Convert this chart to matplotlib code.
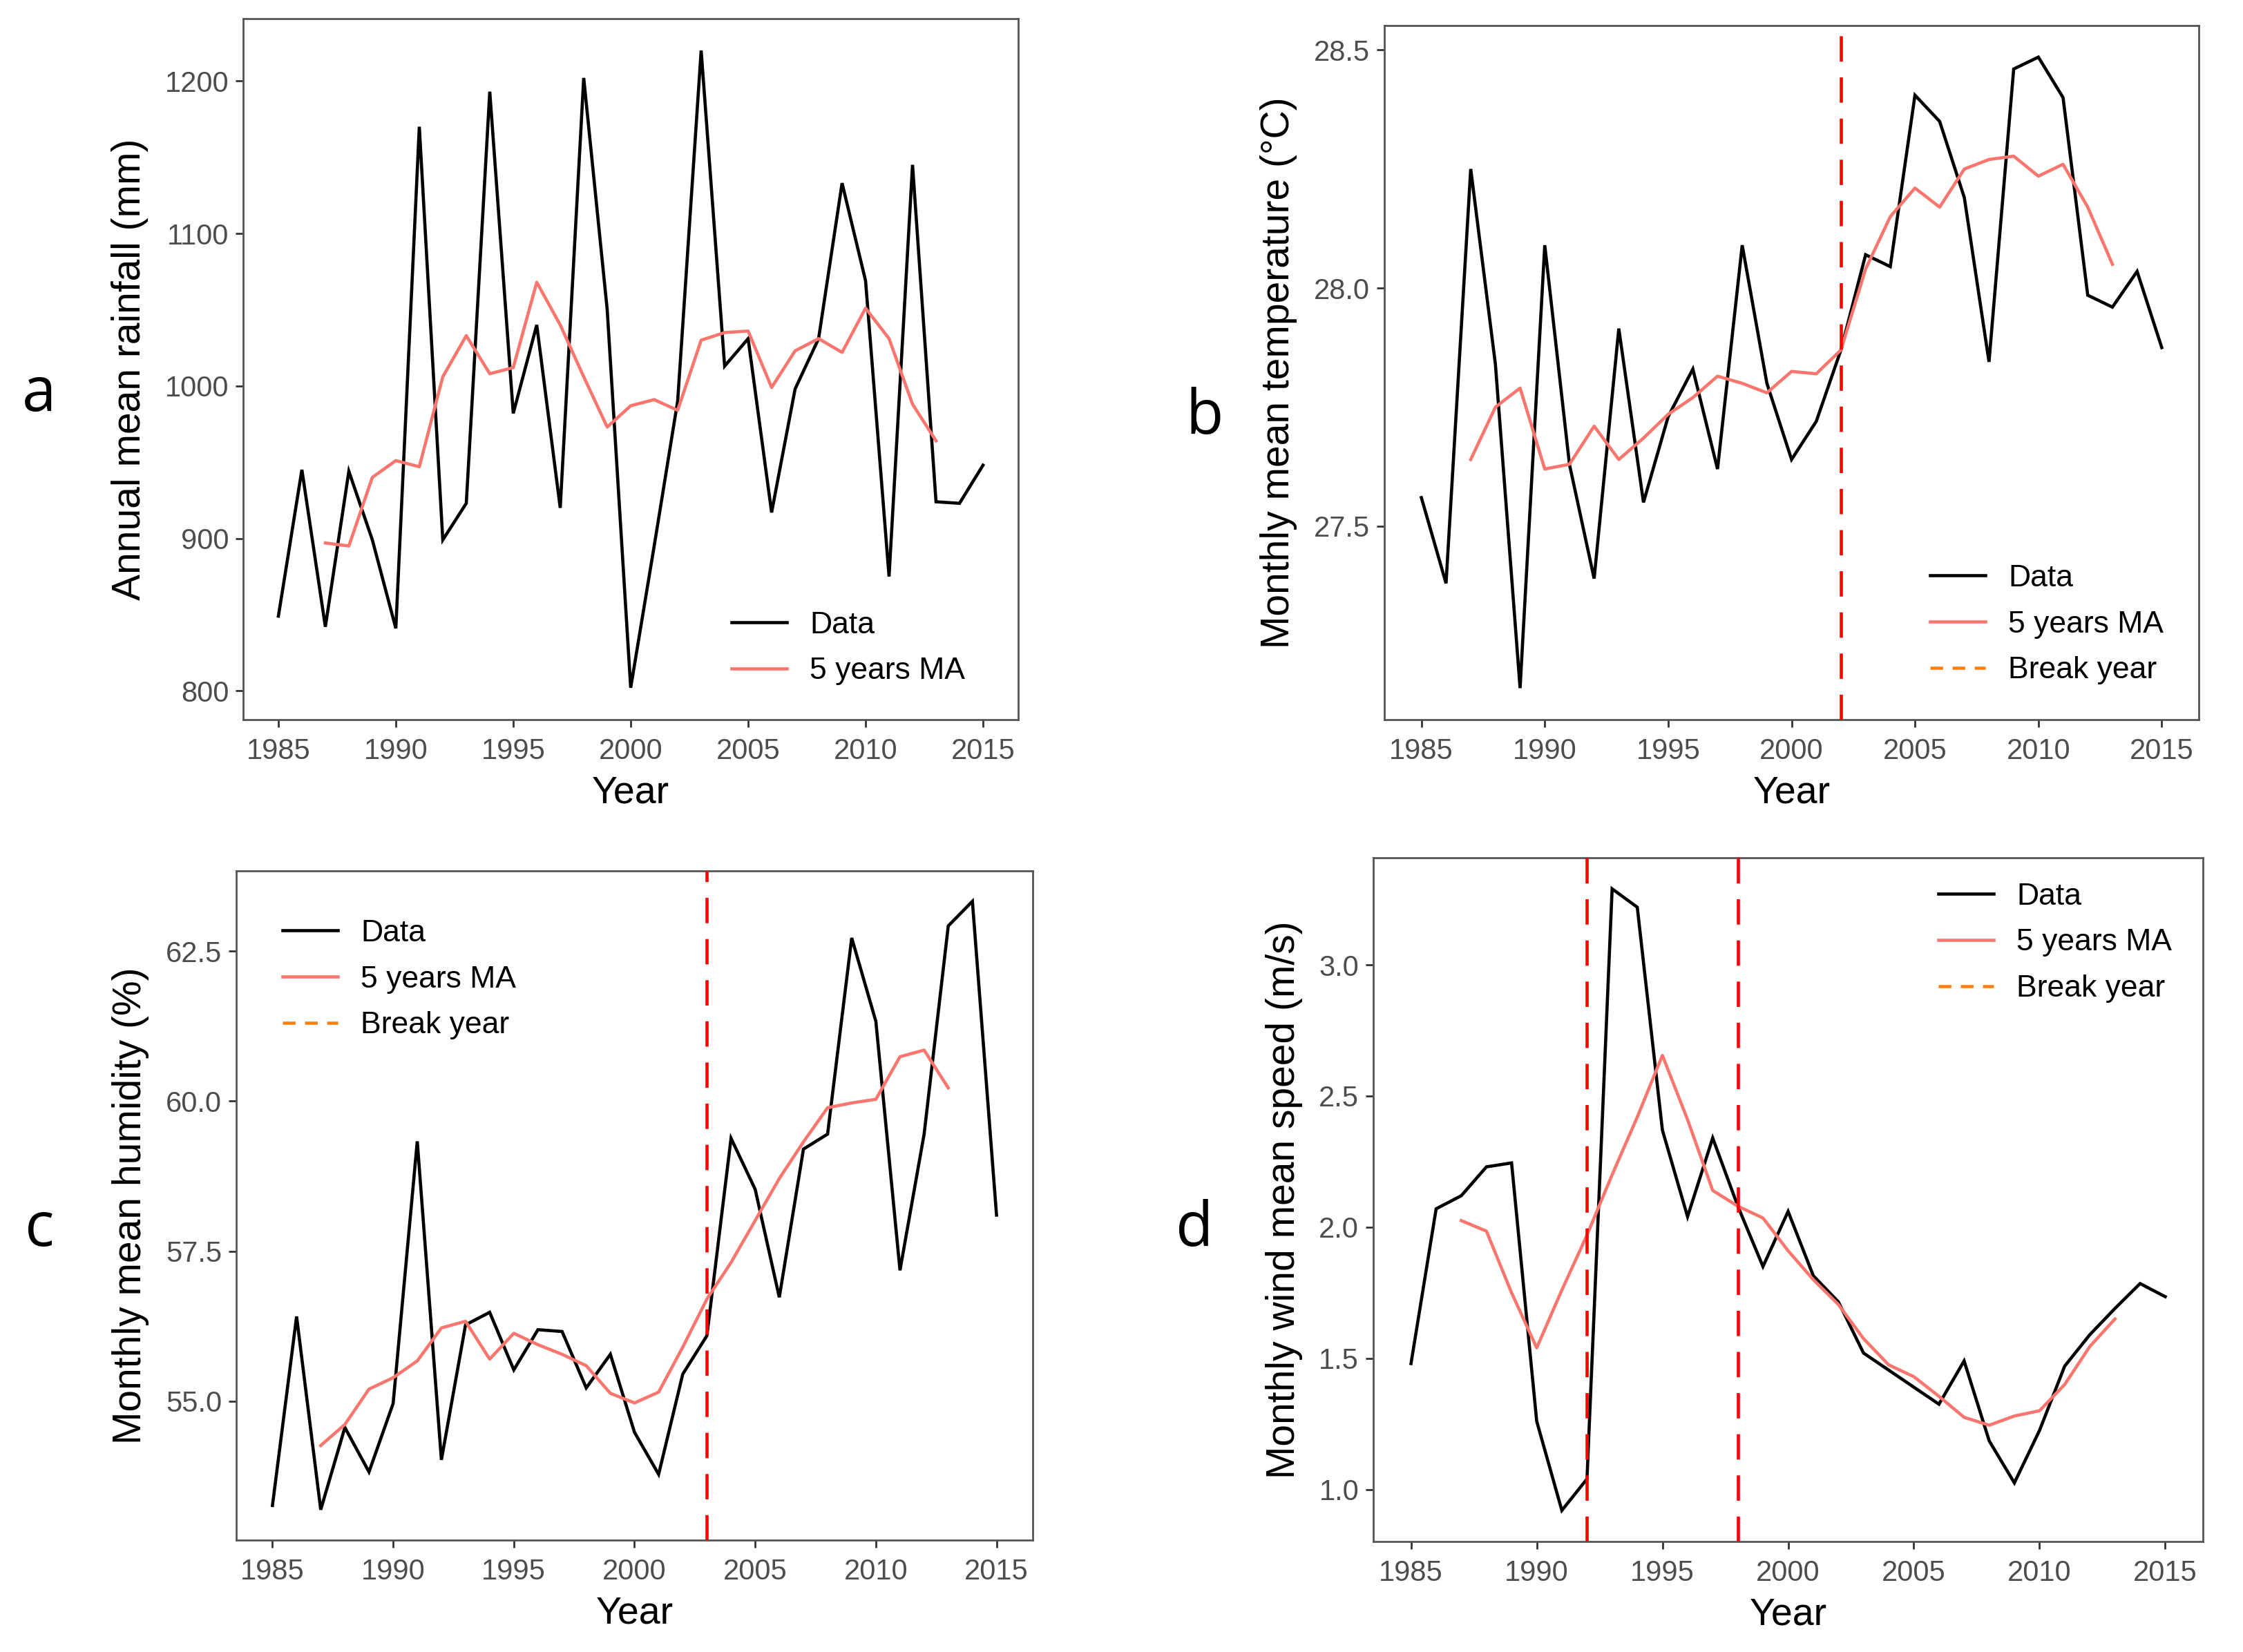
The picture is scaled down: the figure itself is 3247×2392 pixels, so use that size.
import matplotlib
matplotlib.use('Agg')
import matplotlib.pyplot as plt
from matplotlib.lines import Line2D

years = list(range(1985, 2016))
ma_years = list(range(1987, 2014))
x_ticks = [1985, 1990, 1995, 2000, 2005, 2010, 2015]

rain_data = [849, 945, 842, 944, 899, 841, 1170, 899, 923, 1193, 982, 1040, 920, 1202, 1050,
             802, 895, 990, 1220, 1013, 1031, 917, 998, 1031, 1133, 1069, 875, 1145, 924, 923, 948]
rain_ma = [897, 895, 940, 951, 947, 1006, 1033, 1008, 1012, 1068, 1040, 1006, 973, 987, 991,
           984, 1030, 1035, 1036, 999, 1023, 1031, 1022, 1051, 1031, 988, 964]

temp_data = [27.56, 27.38, 28.25, 27.84, 27.16, 28.09, 27.63, 27.39, 27.915, 27.55, 27.73, 27.83,
             27.62, 28.09, 27.80, 27.64, 27.72, 27.87, 28.07, 28.045, 28.405, 28.35, 28.19, 27.845,
             28.46, 28.485, 28.40, 27.985, 27.96, 28.035, 27.875]
temp_ma = [27.64, 27.75, 27.79, 27.62, 27.63, 27.71, 27.64, 27.685, 27.735, 27.77, 27.815, 27.80,
           27.78, 27.825, 27.82, 27.87, 28.04, 28.15, 28.21, 28.17, 28.25, 28.27, 28.277, 28.235,
           28.26, 28.17, 28.05]
temp_breaks = [2002]

hum_data = [53.26, 56.41, 53.19, 54.56, 53.82, 54.96, 59.33, 54.02, 56.27, 56.48, 55.52, 56.19,
            56.16, 55.22, 55.78, 54.48, 53.78, 55.45, 56.09, 59.38, 58.53, 56.73, 59.20, 59.45,
            62.72, 61.33, 57.18, 59.45, 62.92, 63.33, 58.10]
hum_ma = [54.26, 54.61, 55.20, 55.39, 55.67, 56.22, 56.33, 55.70, 56.13, 55.94, 55.78, 55.59,
          55.13, 54.97, 55.15, 55.90, 56.70, 57.31, 58.01, 58.71, 59.32, 59.89, 59.97, 60.03,
          60.74, 60.85, 60.22]
hum_breaks = [2003]

wind_data = [1.48, 2.07, 2.12, 2.23, 2.245, 1.26, 0.92, 1.04, 3.29, 3.22, 2.37, 2.04, 2.34, 2.08,
             1.85, 2.06, 1.815, 1.715, 1.52, 1.455, 1.39, 1.325, 1.49, 1.185, 1.025, 1.225, 1.47,
             1.59, 1.69, 1.785, 1.735]
wind_ma = [2.025, 1.985, 1.75, 1.54, 1.76, 1.97, 2.20, 2.42, 2.655, 2.41, 2.14, 2.08, 2.035, 1.91,
           1.80, 1.705, 1.575, 1.475, 1.43, 1.355, 1.275, 1.245, 1.28, 1.30, 1.40, 1.545, 1.65]
wind_breaks = [1992, 1998]

labels = ["Data", "5 years MA", "Break year"]

W, H = 3247, 2392
fig = plt.figure(figsize=(W / 100, H / 100), dpi=100)
fig.patch.set_facecolor('white')

BLACK = '#000000'
SALMON = '#F8766D'
BREAK_RED = '#FF0000'
LEG_ORANGE = '#FF7F0E'
TICK_C = '#4D4D4D'
FONT = 'Liberation Sans'


def px_rect(left, right, top, bottom):
    return [left / W, 1 - bottom / H, (right - left) / W, (bottom - top) / H]


panels = [
    dict(rect=px_rect(352, 1474, 27, 1042), data=rain_data, ma=rain_ma, breaks=[],
         yticks=[800, 900, 1000, 1100, 1200], fmt='{:.0f}',
         ylabel='Annual mean rainfall (mm)', letter='a', lxy=(57, 572),
         leg=(0.630, 0.155)),
    dict(rect=px_rect(2004, 3183, 37, 1042), data=temp_data, ma=temp_ma, breaks=temp_breaks,
         yticks=[27.5, 28.0, 28.5], fmt='{:.1f}',
         ylabel='Monthly mean temperature (°C)', letter='b', lxy=(1744, 605),
         leg=(0.670, 0.224)),
    dict(rect=px_rect(342, 1495, 1261, 2230), data=hum_data, ma=hum_ma, breaks=hum_breaks,
         yticks=[55.0, 57.5, 60.0, 62.5], fmt='{:.1f}',
         ylabel='Monthly mean humidity (%)', letter='c', lxy=(57, 1781),
         leg=(0.058, 0.928)),
    dict(rect=px_rect(1988, 3189, 1242, 2232), data=wind_data, ma=wind_ma, breaks=wind_breaks,
         yticks=[1.0, 1.5, 2.0, 2.5, 3.0], fmt='{:.1f}',
         ylabel='Monthly wind mean speed (m/s)', letter='d', lxy=(1729, 1781),
         leg=(0.681, 0.964)),
]

for p in panels:
    ax = fig.add_axes(p['rect'])
    ax.plot(years, p['data'], color=BLACK, lw=3.3, solid_joinstyle='miter', zorder=3)
    ax.plot(ma_years, p['ma'], color=SALMON, lw=3.3, zorder=4)
    for b in p['breaks']:
        ax.axvline(b, color=BREAK_RED, lw=3.3, dashes=(8, 5), zorder=5)
    ax.margins(x=0.05, y=0.05)
    ax.set_xticks(x_ticks)
    ax.set_xticklabels([str(t) for t in x_ticks])
    ax.set_yticks(p['yticks'])
    ax.set_yticklabels([p['fmt'].format(t) for t in p['yticks']])
    ax.tick_params(axis='both', which='major', length=8, width=2, color='#333333',
                   labelsize=30, labelcolor=TICK_C)
    ax.tick_params(axis='x', pad=11)
    ax.tick_params(axis='y', pad=7)
    for lab in ax.get_xticklabels() + ax.get_yticklabels():
        lab.set_fontfamily(FONT)
    for s in ax.spines.values():
        s.set_color('#555555')
        s.set_linewidth(2)
    ax.set_xlabel('Year', fontsize=40, family=FONT, color='black', labelpad=10)
    ax.set_ylabel(p['ylabel'], fontsize=41, family=FONT, color='black', labelpad=17)
    ax.grid(False)

    handles = [Line2D([], [], color=BLACK, lw=3.3),
               Line2D([], [], color=SALMON, lw=3.3)]
    labs = labels[:2]
    if p['breaks']:
        handles.append(Line2D([], [], color=LEG_ORANGE, lw=3.3, dashes=(4, 3)))
        labs = labels
    ax.legend(handles, labs, loc='upper left', bbox_to_anchor=p['leg'], frameon=False,
              prop={'family': FONT, 'size': 32}, handlelength=1.8, handletextpad=0.75,
              labelspacing=0.58, borderpad=0, borderaxespad=0)

    fig.text(p['lxy'][0] / W, 1 - p['lxy'][1] / H, p['letter'], fontsize=64,
             family='Open Sans', ha='center', va='center', color='black')

fig.savefig('out.png', dpi=100, facecolor='white')
